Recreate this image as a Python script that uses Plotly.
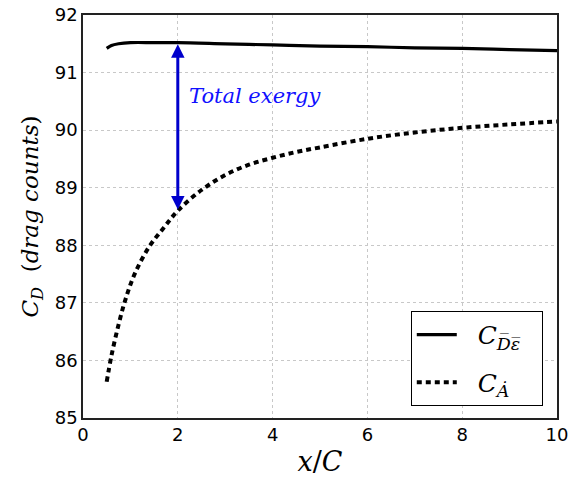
import plotly.graph_objects as go

# Data
x_d = [0.5, 0.6, 0.75, 1.0, 1.5, 2.0, 3.0, 4.0, 5.0, 6.0, 7.0, 8.0, 9.0, 10.0]
y_d = [91.42, 91.47, 91.50, 91.52, 91.52, 91.52, 91.50, 91.48, 91.46, 91.45, 91.43, 91.42, 91.40, 91.38]

x_a = [0.5, 0.6, 0.75, 0.9, 1.1, 1.4, 1.7, 2.0, 2.5, 3.0, 3.5, 4.0, 4.5, 5.0, 6.0, 7.0, 8.0, 9.0, 10.0]
y_a = [85.63, 86.08, 86.62, 87.07, 87.52, 87.98, 88.30, 88.60, 88.96, 89.22, 89.40, 89.52, 89.62, 89.70, 89.85, 89.96, 90.04, 90.10, 90.15]

x_ticks = [0, 2, 4, 6, 8, 10]
y_ticks = [85, 86, 87, 88, 89, 90, 91, 92]

arrow_x = 2.0
arrow_top = 91.52
arrow_bottom = 88.62

serif = "DejaVu Serif"
pad = "&nbsp;&nbsp;"

fig = go.Figure()
fig.add_trace(go.Scatter(
    x=x_d, y=y_d, mode="lines", line_shape="spline",
    line=dict(color="black", width=3.2),
    name=pad + "<i>C</i><sub><i>D\u0305\u03b5\u0305</i></sub>" + pad,
    legendgroup="d",
))
fig.add_trace(go.Scatter(
    x=x_a, y=y_a, mode="lines", line_shape="spline",
    line=dict(color="black", width=4, dash="5px,4px"),
    name=pad + "<i>C</i><sub><i>\u0226</i></sub>" + pad,
    legendgroup="a",
))

fig.add_annotation(
    x=arrow_x, y=arrow_bottom, ax=arrow_x, ay=arrow_top,
    xref="x", yref="y", axref="x", ayref="y",
    showarrow=True, arrowhead=2, arrowside="end+start",
    arrowsize=0.9, arrowwidth=3, arrowcolor="#0000cc", text="",
)
fig.add_annotation(
    x=2.2, y=90.6, xref="x", yref="y", xanchor="left", yanchor="middle",
    text="<i>Total exergy</i>", showarrow=False,
    font=dict(family=serif, size=21, color="#1010ff"),
)

fig.update_layout(
    width=568, height=492,
    margin=dict(l=83, r=11, t=15, b=74, autoexpand=False),
    plot_bgcolor="white", paper_bgcolor="white",
    font=dict(family="DejaVu Sans", size=18, color="black"),
    showlegend=True,
    legend=dict(
        x=0.97, y=0.03, xanchor="right", yanchor="bottom",
        bordercolor="black", borderwidth=1, bgcolor="white",
        font=dict(family=serif, size=25),
        tracegroupgap=12, itemwidth=40,
    ),
)
fig.update_xaxes(
    range=[0, 10], tickvals=x_ticks, automargin=False, ticklabeloverflow="allow",
    showgrid=True, gridcolor="#c8c8c8", griddash="dot", gridwidth=1,
    showline=True, linecolor="#222", linewidth=1.5, mirror=True,
    ticks="", zeroline=False,
    title=dict(text="<i>x</i>/<i>C</i>", font=dict(family=serif, size=27), standoff=8),
)
fig.update_yaxes(
    range=[85, 92], tickvals=y_ticks, automargin=False, ticklabeloverflow="allow",
    showgrid=True, gridcolor="#c8c8c8", griddash="dot", gridwidth=1,
    showline=True, linecolor="#222", linewidth=1.5, mirror=True,
    ticks="", zeroline=False,
    title=dict(text="<i>C</i><sub><i>D</i></sub>  (<i>drag counts</i>)", font=dict(family=serif, size=23), standoff=10),
)

fig.write_html("out.html")
